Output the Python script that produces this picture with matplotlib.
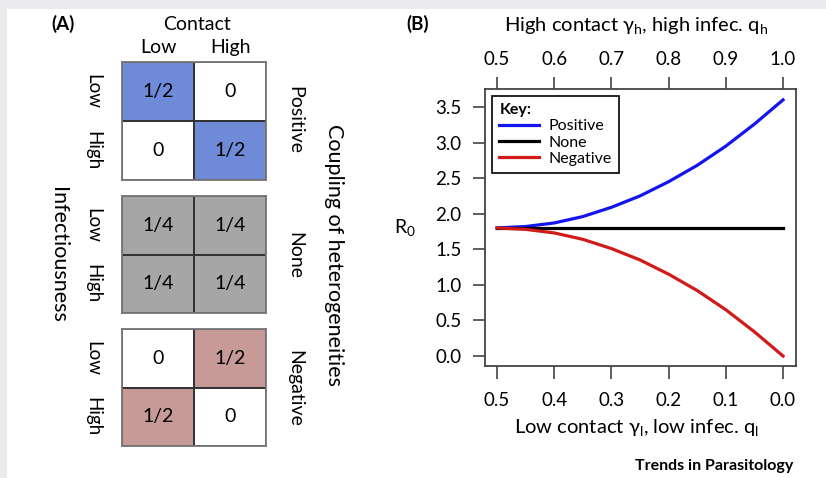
import numpy as np
import matplotlib.pyplot as plt
from matplotlib.colors import ListedColormap
from matplotlib.patches import Rectangle

plt.rcParams['font.family'] = ['Lato', 'DejaVu Sans']

# panel A: share of contacts in each cell (rows = infectiousness, cols = contact)
couplings = ["Positive", "None", "Negative"]
cell_values = [
    [[0.5, 0.0], [0.0, 0.5]],
    [[0.25, 0.25], [0.25, 0.25]],
    [[0.0, 0.5], [0.5, 0.0]],
]
cell_labels = [
    [["1/2", "0"], ["0", "1/2"]],
    [["1/4", "1/4"], ["1/4", "1/4"]],
    [["0", "1/2"], ["1/2", "0"]],
]
cell_colors = ["#6f8bd8", "#a6a6a6", "#c79a97"]
levels = ["Low", "High"]

# panel B: R0 against high-group share gamma_h
gamma_h = [0.50, 0.55, 0.60, 0.65, 0.70, 0.75, 0.80, 0.85, 0.90, 0.95, 1.00]
r0_positive = [1.80, 1.82, 1.87, 1.96, 2.09, 2.25, 2.45, 2.68, 2.95, 3.26, 3.60]
r0_none = [1.80, 1.80, 1.80, 1.80, 1.80, 1.80, 1.80, 1.80, 1.80, 1.80, 1.80]
r0_negative = [1.80, 1.78, 1.73, 1.64, 1.51, 1.35, 1.15, 0.92, 0.65, 0.34, 0.00]
top_ticks = [0.5, 0.6, 0.7, 0.8, 0.9, 1.0]
top_labels = ["0.5", "0.6", "0.7", "0.8", "0.9", "1.0"]
bottom_labels = ["0.5", "0.4", "0.3", "0.2", "0.1", "0.0"]
y_ticks = [0.0, 0.5, 1.0, 1.5, 2.0, 2.5, 3.0, 3.5]

W, H = 826, 478
fig = plt.figure(figsize=(W / 100, H / 100), dpi=100, facecolor="#ebebed")
fig.patches.append(Rectangle((7 / W, 0), 1, 1 - 9 / H, transform=fig.transFigure,
                             facecolor="white", edgecolor="none", zorder=-10))


def px(x, y):
    return x / W, 1 - y / H


def fbox(left, top, right, bottom):
    return [left / W, 1 - bottom / H, (right - left) / W, (bottom - top) / H]


grid_boxes = [(122, 62, 266, 180), (122, 196, 266, 313), (122, 329, 266, 446)]
side_y = [120, 255, 388]

for k in range(3):
    ax = fig.add_axes(fbox(*grid_boxes[k]))
    vals = np.array(cell_values[k])
    ax.pcolormesh(vals, cmap=ListedColormap(["white", cell_colors[k]]),
                  vmin=0, vmax=0.2, edgecolors="#333333", linewidth=1.3)
    ax.set_xlim(0, 2)
    ax.set_ylim(2, 0)
    for i in range(2):
        for j in range(2):
            ax.text(j + 0.5, i + 0.5, cell_labels[k][i][j], ha="center", va="center",
                    fontsize=14, color="black")
    for s in ax.spines.values():
        s.set_color("#777777")
        s.set_linewidth(1.3)
    ax.set_yticks([0.5, 1.5], levels)
    ax.tick_params(axis="y", length=0, pad=15, labelsize=13.5)
    for lab in ax.get_yticklabels():
        lab.set_rotation(270)
        lab.set_va("center")
    if k == 0:
        ax.xaxis.tick_top()
        ax.set_xticks([0.5, 1.5], levels)
        ax.tick_params(axis="x", length=0, pad=4, labelsize=14)
    else:
        ax.set_xticks([])
    fig.text(*px(295, side_y[k]), couplings[k], rotation=270, ha="center", va="center",
             fontsize=14)

fig.text(*px(63, 24), "(A)", fontsize=13.5, fontweight="bold", ha="center", va="center")
fig.text(*px(197, 24), "Contact", fontsize=14, ha="center", va="center")
fig.text(*px(58, 255), "Infectiousness", rotation=270, fontsize=15.5, ha="center", va="center")
fig.text(*px(334, 255), "Coupling of heterogeneities", rotation=270, fontsize=15.5,
         ha="center", va="center")

# panel B
axb = fig.add_axes(fbox(485, 89, 796, 366))
axb.plot(gamma_h, r0_positive, color="#1414f0", lw=2.3, label="Positive")
axb.plot(gamma_h, r0_none, color="black", lw=2.3, label="None")
axb.plot(gamma_h, r0_negative, color="#d21a1a", lw=2.3, label="Negative")
axb.set_xlim(0.479, 1.0227)
axb.set_ylim(-0.1406, 3.753)
axb.set_xticks(top_ticks, bottom_labels)
axb.set_yticks(y_ticks, [f"{v:.1f}" for v in y_ticks])
for s in axb.spines.values():
    s.set_color("#444444")
    s.set_linewidth(1.3)
axb.tick_params(axis="both", direction="out", length=9, width=1.2, color="#444444",
                labelsize=13.5)
axb.tick_params(axis="x", pad=10)
axb.tick_params(axis="y", pad=8)
sec = axb.secondary_xaxis("top")
sec.set_xticks(top_ticks, top_labels)
sec.tick_params(direction="out", length=9, width=1.2, color="#444444", labelsize=13.5, pad=6)
for s in sec.spines.values():
    s.set_visible(False)

leg = axb.legend(loc="upper left", title="Key:", alignment="left", fontsize=11.5,
                 frameon=True, fancybox=False, edgecolor="black", framealpha=1,
                 labelspacing=0.12, handlelength=2.5, handletextpad=0.55,
                 borderpad=0.45, borderaxespad=0.45)
leg.get_title().set_fontweight("bold")
leg.get_title().set_fontsize(11.5)
leg.get_frame().set_linewidth(1.2)

fig.text(*px(418, 24), "(B)", fontsize=13.5, fontweight="bold", ha="center", va="center")
fig.text(*px(636, 26), r"High contact $\mathregular{\gamma_h}$, high infec. $\mathregular{q_h}$",
         fontsize=14.5, ha="center", va="center")
fig.text(*px(636, 428), r"Low contact $\mathregular{\gamma_l}$, low infec. $\mathregular{q_l}$",
         fontsize=14.5, ha="center", va="center")
fig.text(*px(405, 228), r"$\mathregular{R_0}$", fontsize=14, ha="center", va="center")
fig.text(*px(793, 466), "Trends in Parasitology", fontsize=11.5, fontweight="bold",
         ha="right", va="center")

fig.savefig("out.png", dpi=100, facecolor=fig.get_facecolor())
